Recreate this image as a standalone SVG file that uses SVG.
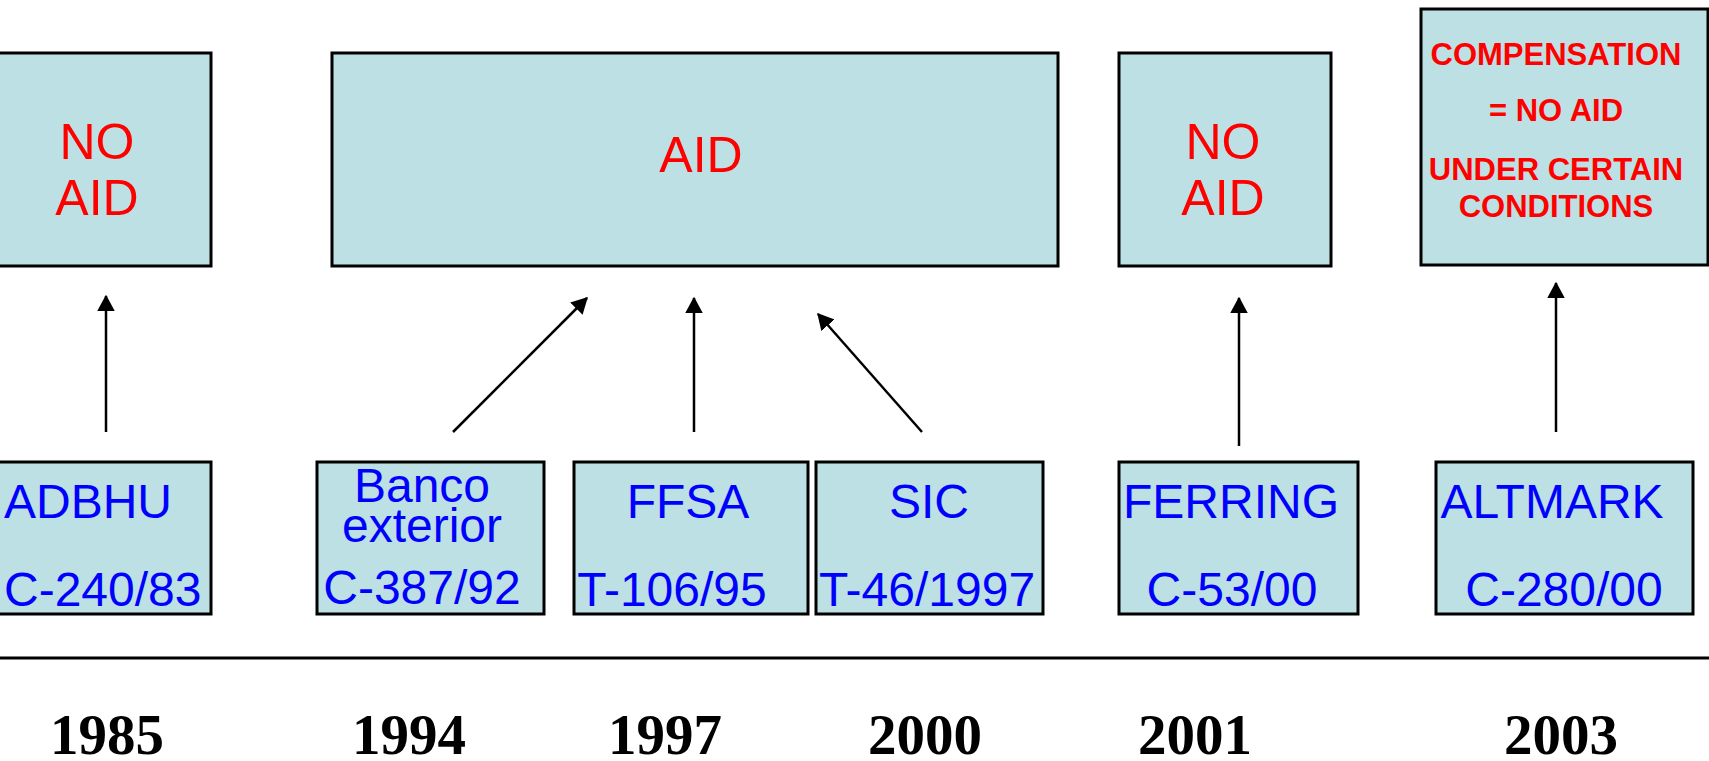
<svg xmlns="http://www.w3.org/2000/svg" width="1709" height="761" viewBox="0 0 1709 761">
<style>
.box{fill:#bce0e3;stroke:#000;stroke-width:3}
.red{font-family:"Liberation Sans",Arial,sans-serif;fill:#ff0000;font-size:50px;text-anchor:middle}
.redb{font-family:"Liberation Sans",Arial,sans-serif;fill:#ff0000;font-size:31px;font-weight:bold;text-anchor:middle}
.blue{font-family:"Liberation Sans",Arial,sans-serif;fill:#0000ff;font-size:48px;text-anchor:middle}
.year{font-family:"Liberation Serif","Times New Roman",serif;fill:#000;font-size:57px;font-weight:bold;text-anchor:middle}
.arr{stroke:#000;stroke-width:2.5;fill:none;marker-end:url(#ah)}
</style>
<defs>
<marker id="ah" markerWidth="7" markerHeight="7" refX="6" refY="3.5" orient="auto" markerUnits="strokeWidth">
<path d="M0,0 L6.5,3.5 L0,7 Z" fill="#000"/>
</marker>
</defs>
<rect width="1709" height="761" fill="#fff"/>
<g id="top-1985">
<rect class="box" x="-2" y="53" width="213" height="213"/>
<text class="red" x="97" y="159">NO</text>
<text class="red" x="97" y="215">AID</text>
</g>
<g id="top-aid">
<rect class="box" x="332" y="53" width="726" height="213"/>
<text class="red" x="701" y="172">AID</text>
</g>
<g id="top-2001">
<rect class="box" x="1119" y="53" width="212" height="213"/>
<text class="red" x="1223" y="159">NO</text>
<text class="red" x="1223" y="215">AID</text>
</g>
<g id="top-2003">
<rect class="box" x="1421" y="9" width="287" height="256"/>
<text class="redb" x="1556" y="65">COMPENSATION</text>
<text class="redb" x="1556" y="121">= NO AID</text>
<text class="redb" x="1556" y="180">UNDER CERTAIN</text>
<text class="redb" x="1556" y="217">CONDITIONS</text>
</g>
<g id="adbhu">
<rect class="box" x="-2" y="462" width="213" height="152"/>
<text class="blue" x="4" y="518" style="text-anchor:start">ADBHU</text>
<text class="blue" x="4" y="606" style="text-anchor:start">C-240/83</text>
</g>
<g id="banco">
<rect class="box" x="317" y="462" width="227" height="152"/>
<text class="blue" x="422" y="502">Banco</text>
<text class="blue" x="422" y="542">exterior</text>
<text class="blue" x="422" y="604">C-387/92</text>
</g>
<g id="ffsa">
<rect class="box" x="574" y="462" width="234" height="152"/>
<text class="blue" x="688" y="518">FFSA</text>
<text class="blue" x="672" y="606">T-106/95</text>
</g>
<g id="sic">
<rect class="box" x="816" y="462" width="227" height="152"/>
<text class="blue" x="929" y="518">SIC</text>
<text class="blue" x="927" y="606">T-46/1997</text>
</g>
<g id="ferring">
<rect class="box" x="1119" y="462" width="239" height="152"/>
<text class="blue" x="1231" y="518">FERRING</text>
<text class="blue" x="1232" y="606">C-53/00</text>
</g>
<g id="altmark">
<rect class="box" x="1436" y="462" width="257" height="152"/>
<text class="blue" x="1552" y="518">ALTMARK</text>
<text class="blue" x="1564" y="606">C-280/00</text>
</g>
<g id="connectors">
<line class="arr" x1="106" y1="432" x2="106" y2="296"/>
<line class="arr" x1="453" y1="432" x2="587" y2="298"/>
<line class="arr" x1="694" y1="432" x2="694" y2="298"/>
<line class="arr" x1="922" y1="432" x2="818" y2="314"/>
<line class="arr" x1="1239" y1="446" x2="1239" y2="298"/>
<line class="arr" x1="1556" y1="432" x2="1556" y2="283"/>
</g>
<g id="timeline">
<line x1="0" y1="658" x2="1709" y2="658" stroke="#000" stroke-width="3"/>
<text class="year" x="107" y="754">1985</text>
<text class="year" x="409" y="754">1994</text>
<text class="year" x="665" y="754">1997</text>
<text class="year" x="925" y="754">2000</text>
<text class="year" x="1195" y="754">2001</text>
<text class="year" x="1561" y="754">2003</text>
</g>
</svg>
